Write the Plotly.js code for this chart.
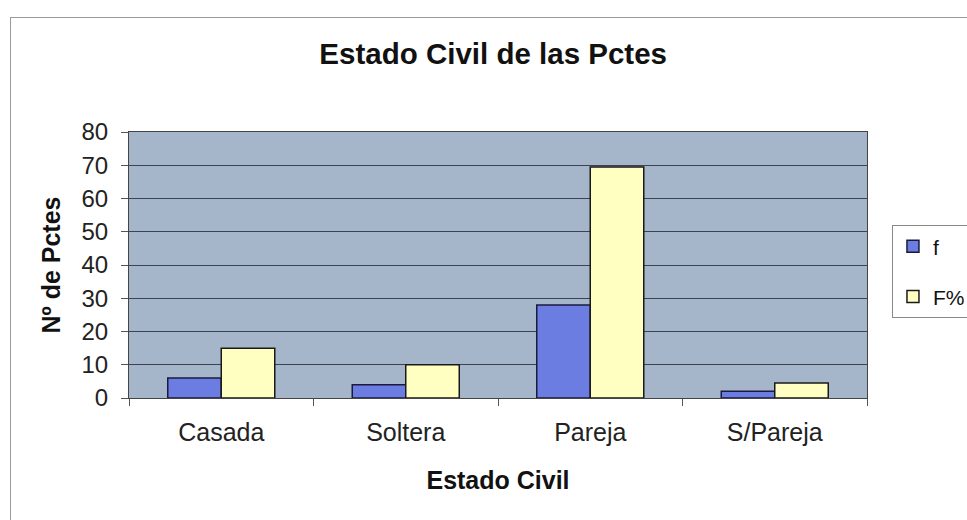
<!DOCTYPE html>
<html>
<head>
<meta charset="utf-8">
<script src="https://cdn.plot.ly/plotly-3.0.1.min.js"></script>
<style>
  html, body { margin: 0; padding: 0; background: #ffffff; }
  #chart { width: 967px; height: 520px; }
  #frame { position: absolute; left: 10px; top: 17px; width: 1000px; height: 600px;
           border: 1px solid #9a9a9a; pointer-events: none; }
</style>
</head>
<body>
<div id="chart"></div>
<div id="frame"></div>
<script>
const categories = ["Casada", "Soltera", "Pareja", "S/Pareja"];
const fValues = [6, 4, 28, 2];
const fPctValues = [15, 10, 69.5, 4.5];
const seriesNames = ["f", "F%"];
const yTicks = [0, 10, 20, 30, 40, 50, 60, 70, 80];

const FONT = "Liberation Sans, Arial, sans-serif";

const traces = [
  {
    type: "bar", name: seriesNames[0], x: categories, y: fValues,
    legendgroup: "g1",
    marker: { color: "#6b7de0", line: { color: "#1a1a40", width: 1.5 } }
  },
  {
    type: "bar", name: seriesNames[1], x: categories, y: fPctValues,
    legendgroup: "g2",
    marker: { color: "#ffffc2", line: { color: "#1a1a1a", width: 1.5 } }
  }
];

const layout = {
  width: 967, height: 520,
  margin: { l: 129, r: 100, t: 132, b: 122, autoexpand: false },
  paper_bgcolor: "#ffffff",
  plot_bgcolor: "#a6b6ca",
  barmode: "group",
  bargap: 0.42,
  bargroupgap: 0,
  font: { family: FONT, color: "#111111" },
  title: {
    text: "<b>Estado Civil de las Pctes</b>",
    font: { family: FONT, size: 29.5, color: "#111111" },
    xref: "container", x: 0.51, xanchor: "center",
    yref: "container", y: 0.897, yanchor: "middle"
  },
  xaxis: {
    type: "category",
    automargin: false,
    tickfont: { family: FONT, size: 25, color: "#222222" },
    ticks: "outside", tickson: "boundaries", ticklen: 7, tickcolor: "#555555",
    showline: true, linecolor: "#444444", linewidth: 1, mirror: true,
    showgrid: false,
    ticklabelstandoff: 12,
    title: { text: "<b>Estado Civil</b>", font: { family: FONT, size: 25, color: "#111111" }, standoff: 26 }
  },
  yaxis: {
    range: [0, 80],
    automargin: false,
    tickvals: yTicks,
    tickfont: { family: FONT, size: 24, color: "#222222" },
    ticks: "outside", ticklen: 7, tickcolor: "#555555",
    showline: true, linecolor: "#444444", linewidth: 1, mirror: true,
    showgrid: true, gridcolor: "#3c4250", gridwidth: 1,
    zeroline: false,
    ticklabelstandoff: 8,
    title: { text: "<b>Nº de Pctes</b>", font: { family: FONT, size: 25, color: "#111111" }, standoff: 13 }
  },
  legend: {
    xref: "container", x: 0.9224, xanchor: "left",
    yref: "container", y: 0.567, yanchor: "top",
    bgcolor: "#ffffff", bordercolor: "#888888", borderwidth: 1,
    font: { family: FONT, size: 21, color: "#111111" },
    traceorder: "grouped", tracegroupgap: 20,
    itemwidth: 30
  },
  showlegend: true
};

Plotly.newPlot("chart", traces, layout, { staticPlot: true, displayModeBar: false });
</script>
</body>
</html>
